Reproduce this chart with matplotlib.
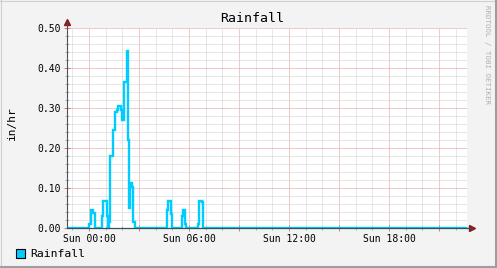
import matplotlib.pyplot as plt
from matplotlib.ticker import MultipleLocator, FixedLocator
from matplotlib.lines import Line2D
import numpy as np

# saat (Sun 00:00'dan itibaren) ve yagis degerleri (in/hr), step 'post'
saatler = [-1.32, 0.00, 0.12, 0.26, 0.36, 0.80, 0.86, 1.06, 1.12, 1.20, 1.26,
           1.46, 1.56, 1.66, 1.76, 1.92, 1.96, 2.12, 2.26, 2.36, 2.40, 2.46,
           2.56, 2.66, 2.76, 4.70, 4.76, 4.90, 4.96, 5.56, 5.62, 5.76, 5.82,
           6.52, 6.62, 6.78, 6.86, 22.68]
yagis = [0.0, 0.01, 0.045, 0.037, 0.0, 0.03, 0.068, 0.03, 0.0, 0.016, 0.18,
         0.245, 0.29, 0.295, 0.305, 0.295, 0.27, 0.365, 0.443, 0.22, 0.05, 0.112,
         0.103, 0.016, 0.0, 0.045, 0.068, 0.035, 0.0, 0.03, 0.045, 0.01, 0.0,
         0.01, 0.068, 0.065, 0.0, 0.0]

xEtiketKonum = [0, 6, 12, 18]
xEtiketler = ["Sun 00:00", "Sun 06:00", "Sun 12:00", "Sun 18:00"]
yEtiketKonum = [0.0, 0.1, 0.2, 0.3, 0.4, 0.5]

W, H = 497, 268
arkaplan = '#f3f3f3'
cizgiRenk = '#00ccff'
majorRenk = '#e39494'
minorRenk = '#cfcfcf'
okRenk = '#8b1a1a'
mono = 'DejaVu Sans Mono'

fig = plt.figure(figsize=(W / 100, H / 100), dpi=100, facecolor=arkaplan)
ax = fig.add_axes([67 / W, 1 - 228 / H, 400 / W, 200 / H])
ax.set_facecolor('white')

ax.step(saatler, yagis, where='post', color=cizgiRenk, linewidth=1.7, zorder=3,
        solid_joinstyle='miter')

ax.set_xlim(-1.32, 22.68)
ax.set_ylim(0, 0.5)

# grid
xMajor = [h for h in range(0, 23, 3)]
ax.xaxis.set_major_locator(FixedLocator(xMajor))
ax.set_xticklabels([xEtiketler[xEtiketKonum.index(h)] if h in xEtiketKonum else '' for h in xMajor])
ax.xaxis.set_minor_locator(MultipleLocator(1))
ax.yaxis.set_major_locator(FixedLocator(yEtiketKonum))
ax.set_yticklabels(["%.2f" % v for v in yEtiketKonum])
ax.yaxis.set_minor_locator(MultipleLocator(0.02))

ax.grid(which='minor', color=minorRenk, linestyle=(0, (1, 1)), linewidth=0.72, zorder=1)
ax.grid(which='major', color=majorRenk, linestyle=(0, (1, 1)), linewidth=0.72, zorder=1)
ax.set_axisbelow(True)

ax.tick_params(which='major', direction='inout', length=5, width=0.72, color='#d08080',
               labelsize=7, labelcolor='black', pad=2)
ax.tick_params(which='minor', direction='inout', length=3, width=0.72, color='#b0b0b0')
for lbl in ax.get_xticklabels() + ax.get_yticklabels():
    lbl.set_family(mono)

for s in ['top', 'right']:
    ax.spines[s].set_visible(False)
ax.spines['left'].set_color('#505050')
ax.spines['bottom'].set_color('#2f5560')
ax.spines['left'].set_linewidth(0.8)
ax.spines['bottom'].set_linewidth(0.9)
ax.spines['left'].set_zorder(4)
ax.spines['bottom'].set_zorder(4)
ax.spines['left'].set_bounds(0, 0.5)

# eksen oklari
ax.plot([0], [1.03], marker='^', color=okRenk, markersize=4, transform=ax.transAxes, clip_on=False)
ax.plot([1.0125], [0], marker='>', color=okRenk, markersize=4, transform=ax.transAxes, clip_on=False)
ax.plot([1.0, 1.0125], [0, 0], color='#2f5560', linewidth=0.9, transform=ax.transAxes, clip_on=False)
ax.plot([0, 0], [1.0, 1.03], color='#505050', linewidth=0.8, transform=ax.transAxes, clip_on=False)

# yazilar
fig.text(252 / W, 1 - 18 / H, "Rainfall", family=mono, fontsize=9.5, ha='center', va='center')
fig.text(12 / W, 1 - 123 / H, "in/hr", family=mono, fontsize=8, rotation=90, ha='center', va='center')
fig.text(487 / W, 1 - 5 / H, "RRDTOOL / TOBI OETIKER", family=mono, fontsize=5.4,
         color='#b0b0b0', rotation=270, ha='center', va='top')

# legend
fig.patches.append(plt.Rectangle((16 / W, 1 - 258 / H), 9 / W, 9 / H, facecolor=cizgiRenk,
                                 edgecolor='black', linewidth=0.8, transform=fig.transFigure))
fig.text(30 / W, 1 - 254 / H, "Rainfall", family=mono, fontsize=8.2, ha='left', va='center')

# cerceve
fig.add_artist(Line2D([0, 1], [1 - 0.5 / H, 1 - 0.5 / H], color='#cfcfcf', linewidth=0.8))
fig.add_artist(Line2D([0.5 / W, 0.5 / W], [0, 1], color='#cfcfcf', linewidth=0.8))
fig.add_artist(Line2D([1 - 1 / W, 1 - 1 / W], [0, 1], color='#9e9e9e', linewidth=1.5))
fig.add_artist(Line2D([0, 1], [1 / H, 1 / H], color='#9e9e9e', linewidth=1.5))

fig.savefig('out.png', dpi=100, facecolor=arkaplan)
